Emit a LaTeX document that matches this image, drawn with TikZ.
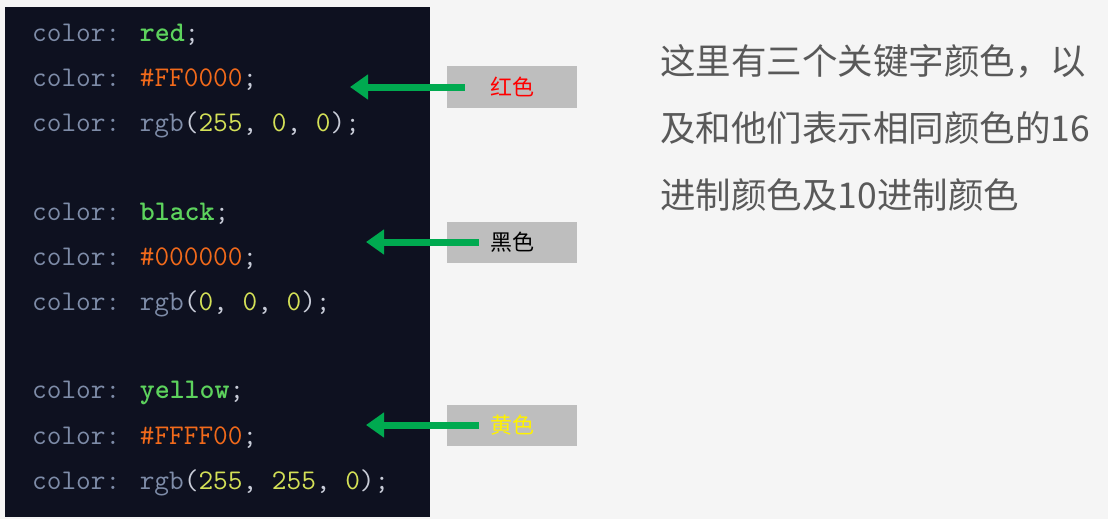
\documentclass[tikz,border=0pt]{standalone}
\usepackage{fontspec}
\newfontfamily\cjk{Noto Sans CJK SC}
\usetikzlibrary{arrows.meta}
\definecolor{panel}{HTML}{0E1120}
\definecolor{kw}{HTML}{7E8CA8}
\definecolor{gr}{HTML}{5DD35D}
\definecolor{org}{HTML}{F26A1B}
\definecolor{yl}{HTML}{D4E157}
\definecolor{wt}{HTML}{C8CCD8}
\definecolor{arr}{HTML}{00AA50}
\definecolor{lab}{HTML}{BEBEBE}
\tikzset{
 code/.style={anchor=west,inner sep=0pt,font=\fontsize{28.5}{28.5}\ttfamily,text=kw},
 labbox/.style={fill=lab,minimum width=130pt,minimum height=41pt,inner sep=0pt,font=\fontsize{22}{22}\cjk},
 garr/.style={arr,line width=7pt,-{Triangle[length=18pt,width=24pt]}},
}
\begin{document}
\begin{tikzpicture}[x=1pt,y=-1pt]
\useasboundingbox (0,0) rectangle (1108,519);
\fill[white!96!black] (0,0) rectangle (1108,519);
\fill[panel] (5,7) rectangle (430,517);
\node[code] (l1) at (32,35) {color: \textcolor{gr}{\bfseries red}\textcolor{wt}{;}};
\node[code] (l2) at (32,80) {color: \textcolor{org}{\#FF0000}\textcolor{wt}{;}};
\node[code] (l3) at (32,125) {color: rgb\textcolor{wt}{(}\textcolor{yl}{255}\textcolor{wt}{,} \textcolor{yl}{0}\textcolor{wt}{,} \textcolor{yl}{0}\textcolor{wt}{);}};
\node[code] (l4) at (32,214) {color: \textcolor{gr}{\bfseries black}\textcolor{wt}{;}};
\node[code] (l5) at (32,259) {color: \textcolor{org}{\#000000}\textcolor{wt}{;}};
\node[code] (l6) at (32,304) {color: rgb\textcolor{wt}{(}\textcolor{yl}{0}\textcolor{wt}{,} \textcolor{yl}{0}\textcolor{wt}{,} \textcolor{yl}{0}\textcolor{wt}{);}};
\node[code] (l7) at (32,393) {color: \textcolor{gr}{\bfseries yellow}\textcolor{wt}{;}};
\node[code] (l8) at (32,438) {color: \textcolor{org}{\#FFFF00}\textcolor{wt}{;}};
\node[code] (l9) at (32,483) {color: rgb\textcolor{wt}{(}\textcolor{yl}{255}\textcolor{wt}{,} \textcolor{yl}{255}\textcolor{wt}{,} \textcolor{yl}{0}\textcolor{wt}{);}};
\node[labbox,text=red] (b1) at (512,87) {红色};
\node[labbox,text=black] (b2) at (512,242) {黑色};
\node[labbox,text=yellow] (b3) at (512,425) {黄色};
\coordinate (t1) at (350,87);
\coordinate (t2) at (366,242);
\coordinate (t3) at (366,425);
\draw[garr] ([xshift=18pt]b1.west) -- (t1);
\draw[garr] ([xshift=32pt]b2.west) -- (t2);
\draw[garr] ([xshift=32pt]b3.west) -- (t3);
\node[anchor=north west,align=left,inner sep=0pt,text=black!65,font=\fontsize{35.5}{67}\cjk] (desc) at (660,44) {这里有三个关键字颜色，以\\及和他们表示相同颜色的16\\进制颜色及10进制颜色};
\end{tikzpicture}
\end{document}
